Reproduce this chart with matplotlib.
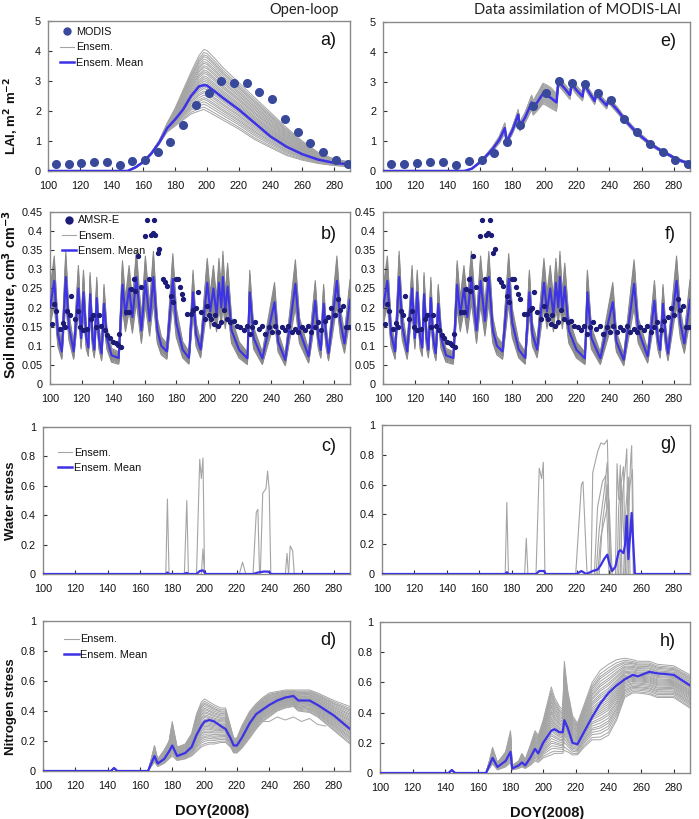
""" Open-loop vs data assimilation of MODIS-LAI: LAI, soil moisture,
water stress and nitrogen stress ensembles.
"""

import matplotlib
matplotlib.use('Agg')
import numpy as np
import matplotlib.pyplot as plt

plt.rcParams['font.family'] = ['Liberation Sans', 'DejaVu Sans']

ENS_GRAY = '#a4a4a4'
SM_GRAY = '#8a8a8a'
MEAN_BLUE = '#3c32e6'
MODIS_COLOR = '#38489a'
AMSR_COLOR = '#1c1c78'
FRAME = '#8a8a8a'

# ---- LAI observations (MODIS, 8-day) ----
modis_doy = [105, 113, 121, 129, 137, 145, 153, 161, 169, 177, 185, 193,
             201, 209, 217, 225, 233, 241, 249, 257, 265, 273, 281, 289]
modis_lai = [0.25, 0.25, 0.28, 0.31, 0.30, 0.19, 0.33, 0.38, 0.62, 0.96,
             1.53, 2.19, 2.61, 3.01, 2.94, 2.92, 2.62, 2.39, 1.74, 1.31,
             0.92, 0.64, 0.36, 0.25]

# ---- open-loop LAI ----
ol_lai_doy = [100, 150, 155, 160, 165, 170, 175, 180, 185, 190, 195, 198,
              200, 205, 210, 220, 230, 240, 250, 260, 270, 280, 290]
ol_lai_mean = [0, 0, 0.12, 0.30, 0.58, 0.95, 1.43, 1.72, 2.05, 2.50, 2.82,
               2.86, 2.85, 2.65, 2.44, 2.05, 1.60, 1.15, 0.81, 0.56, 0.38,
               0.27, 0.22]
ol_lai_low = [0, 0, 0.10, 0.28, 0.55, 0.90, 1.30, 1.50, 1.70, 1.90, 2.00,
              2.05, 2.00, 1.85, 1.70, 1.40, 1.05, 0.78, 0.52, 0.36, 0.25,
              0.18, 0.14]
ol_lai_high = [0, 0, 0.14, 0.33, 0.62, 1.02, 1.60, 2.10, 2.70, 3.30, 3.85,
               4.05, 4.02, 3.75, 3.45, 2.95, 2.45, 1.95, 1.45, 1.00, 0.62,
               0.40, 0.30]

# ---- assimilated LAI ----
da_lai_doy = [100, 150.5, 155, 159, 163, 168, 172, 175.4, 176.5, 180, 183.7,
              184.7, 188, 192, 193, 196, 199, 201, 204, 207.4, 208.5, 212,
              215.7, 216.7, 220, 223.5, 224.6, 228, 231, 232, 235, 238.4,
              239.5, 245, 250, 255, 260, 265, 270, 275, 280, 285, 290]
da_lai_mean = [0, 0, 0.08, 0.25, 0.45, 0.75, 1.05, 1.44, 0.98, 1.35, 1.89,
               1.49, 1.80, 2.30, 2.12, 2.35, 2.60, 2.55, 2.45, 2.30, 3.00,
               2.80, 2.55, 2.92, 2.70, 2.50, 2.90, 2.60, 2.35, 2.60, 2.40,
               2.20, 2.38, 2.05, 1.70, 1.40, 1.15, 0.93, 0.75, 0.60, 0.45,
               0.33, 0.25]
da_lai_spread = [0, 0, 0.01, 0.03, 0.05, 0.08, 0.12, 0.18, 0.10, 0.12, 0.18,
                 0.15, 0.18, 0.25, 0.25, 0.30, 0.35, 0.35, 0.35, 0.30, 0.12,
                 0.15, 0.15, 0.12, 0.15, 0.15, 0.10, 0.12, 0.12, 0.10, 0.12,
                 0.12, 0.10, 0.10, 0.08, 0.08, 0.07, 0.06, 0.05, 0.05, 0.04,
                 0.04, 0.03]

# ---- soil moisture (same in open-loop and DA) ----
sm_doy = [100, 102.7, 105, 107.5, 110, 112, 115, 118, 119.7, 121.2, 123,
          124.3, 125.4, 127, 128.1, 129.6, 131, 132.7, 134.2, 136, 139, 143.5,
          145.9, 147.8, 150.1, 152.2, 154.7, 157.9, 160.4, 163.1, 165.5, 168,
          170.5, 174, 177.8, 180, 184, 188, 190.6, 192.5, 195.4, 199.6, 201.5,
          203.5, 205.5, 207, 208.5, 209.5, 211, 212.5, 215, 219.8, 225, 226.5,
          229, 234.5, 242.2, 244.5, 249, 255.4, 258, 263.8, 268, 270, 271.5,
          273.3, 275, 276.4, 281.7, 284, 286.5, 290]
sm_mean = [0.20, 0.27, 0.13, 0.085, 0.28, 0.15, 0.085, 0.25, 0.12, 0.24,
           0.12, 0.095, 0.235, 0.12, 0.09, 0.225, 0.12, 0.08, 0.21, 0.12,
           0.075, 0.068, 0.26, 0.18, 0.25, 0.175, 0.28, 0.14, 0.27, 0.165,
           0.28, 0.14, 0.10, 0.085, 0.275, 0.16, 0.09, 0.068, 0.24, 0.13,
           0.09, 0.265, 0.19, 0.25, 0.18, 0.265, 0.20, 0.28, 0.19, 0.255,
           0.14, 0.089, 0.067, 0.24, 0.12, 0.067, 0.214, 0.11, 0.063, 0.262,
           0.14, 0.072, 0.218, 0.12, 0.089, 0.21, 0.12, 0.08, 0.27, 0.16,
           0.106, 0.22]
sm_member_factor = [0.76, 0.80, 0.84, 0.87, 0.90, 0.93, 0.95, 0.97, 1.00,
                    1.02, 1.05, 1.08, 1.10, 1.13, 1.16, 1.20, 1.24]

amsr_doy = [101.5, 102.7, 104, 106.3, 108, 109.4, 111, 112.6, 113.6, 116.1,
            117.8, 119.3, 121, 123.5, 126.2, 127.3, 129.4, 131, 132.5, 134.6,
            136.3, 137.7, 139.8, 141.5, 143, 144, 144.7, 148.2, 149.9, 151.4,
            153, 154.1, 155.6, 157.7, 160.2, 161.2, 162.9, 164, 165, 166,
            166.7, 168.1, 169.2, 171.7, 173, 174.4, 176.5, 178.2, 179.7, 181.1,
            182.4, 183.4, 184.5, 187, 189.1, 190.8, 192.2, 193.7, 195.4, 197.9,
            199.6, 200.6, 202.1, 203.8, 204.8, 206.3, 208, 210, 212.2, 214.3,
            216.4, 218.4, 220.5, 222.6, 224.7, 226.4, 227.9, 230, 232.1, 234.2,
            236.3, 238.4, 240.5, 242.6, 244.7, 246.8, 248.8, 251, 253, 255.1,
            257.2, 259.3, 261.4, 263.5, 265.6, 267.7, 269.8, 271.9, 274, 276.1,
            278.2, 280.3, 282.4, 283.9, 285.5, 287.6, 289.1]
amsr_sm = [0.158, 0.21, 0.19, 0.145, 0.16, 0.15, 0.19, 0.18, 0.23, 0.17,
           0.19, 0.15, 0.14, 0.145, 0.17, 0.18, 0.15, 0.18, 0.153, 0.14,
           0.128, 0.12, 0.11, 0.106, 0.103, 0.132, 0.097, 0.188, 0.188, 0.249,
           0.275, 0.244, 0.335, 0.253, 0.387, 0.43, 0.275, 0.39, 0.395, 0.43,
           0.39, 0.344, 0.352, 0.275, 0.266, 0.257, 0.231, 0.214, 0.275, 0.275,
           0.253, 0.236, 0.222, 0.184, 0.184, 0.193, 0.20, 0.24, 0.188, 0.17,
           0.205, 0.18, 0.17, 0.158, 0.18, 0.153, 0.162, 0.193, 0.17, 0.162,
           0.166, 0.153, 0.149, 0.14, 0.153, 0.132, 0.149, 0.162, 0.145, 0.153,
           0.132, 0.149, 0.136, 0.153, 0.136, 0.149, 0.14, 0.153, 0.136, 0.145,
           0.136, 0.149, 0.14, 0.153, 0.136, 0.149, 0.162, 0.14, 0.166, 0.175,
           0.20, 0.18, 0.222, 0.193, 0.205, 0.149, 0.149]

# ---- water stress ----
ol_ws_spikes = [
    ([176, 177, 178], [0, 0.51, 0]),
    ([187.5, 189, 190], [0, 0.50, 0]),
    ([195, 197, 198, 199, 200], [0, 0.78, 0.65, 0.79, 0]),
    ([198, 199, 200], [0, 0.17, 0]),
    ([221.5, 223.5, 225.5], [0, 0.08, 0]),
    ([230, 232, 233, 234], [0, 0.42, 0.44, 0]),
    ([234.5, 236, 238, 239, 240, 241], [0, 0.55, 0.58, 0.70, 0.57, 0]),
    ([250, 251, 252], [0, 0.14, 0]),
    ([252, 253, 254.5, 255.5], [0, 0.19, 0.16, 0]),
]
ol_ws_doy = [100, 176, 177, 178, 187, 189, 190, 195, 197, 199, 200, 201,
             230, 233, 237, 240, 241, 290]
ol_ws_mean = [0, 0, 0.01, 0, 0, 0.008, 0, 0, 0.02, 0.025, 0.01, 0,
              0, 0.01, 0.017, 0.015, 0, 0]

da_ws_spikes = [
    ([176, 177, 178], [0, 0.48, 0]),
    ([188, 189, 190], [0, 0.24, 0]),
    ([195, 197, 198.5, 199.5, 200.5], [0, 0.71, 0.64, 0.75, 0]),
    ([219.5, 223, 224, 226.5], [0, 0.60, 0.62, 0]),
    ([229, 230, 233, 235, 237, 239, 241], [0, 0.68, 0.82, 0.88, 0.87, 0.90, 0]),
    ([231, 233, 236, 238, 240], [0, 0.45, 0.62, 0.66, 0]),
    ([232, 234, 237, 239, 241], [0, 0.30, 0.55, 0.75, 0]),
    ([233, 235, 238, 240, 242], [0, 0.25, 0.40, 0.50, 0]),
    ([234, 236, 239, 241], [0, 0.35, 0.60, 0]),
    ([244, 245, 246, 247, 248], [0, 0.74, 0.50, 0.73, 0]),
    ([245, 246, 248, 249, 250], [0, 0.45, 0.65, 0.72, 0]),
    ([246, 247.5, 249, 250.5], [0, 0.60, 0.30, 0]),
    ([247, 248.5, 250, 251, 252], [0, 0.55, 0.70, 0.84, 0]),
    ([249, 250.5, 252, 253], [0, 0.45, 0.65, 0]),
    ([251, 252.5, 253.5, 254, 255], [0, 0.55, 0.78, 0.86, 0]),
    ([250, 251.5, 253, 254.5, 255.5], [0, 0.35, 0.60, 0.70, 0]),
]
da_ws_doy = [100, 176, 177, 178, 195, 197, 200, 201, 220, 223, 226, 230,
             233, 235, 237, 239, 240, 242, 244, 246, 247, 249, 250, 251,
             252, 253, 254, 255, 256, 290]
da_ws_mean = [0, 0, 0.012, 0, 0, 0.02, 0.02, 0, 0, 0.02, 0, 0.02,
              0.03, 0.06, 0.10, 0.13, 0.08, 0.02, 0.05, 0.15, 0.16, 0.14,
              0.20, 0.39, 0.10, 0.25, 0.41, 0.20, 0, 0]

# ---- nitrogen stress ----
ol_ns_doy = [100, 142, 144, 146, 165, 167, 169, 171, 175, 178, 180, 183, 188,
             192, 195, 198, 200, 203, 206, 210, 213, 216, 218, 220, 223, 228,
             232, 236, 240, 245, 250, 255, 258, 265, 270, 280, 290]
ol_ns_mean = [0, 0, 0.02, 0, 0, 0.05, 0.10, 0.05, 0.08, 0.13, 0.17, 0.10,
              0.12, 0.16, 0.24, 0.30, 0.33, 0.34, 0.33, 0.30, 0.28, 0.22,
              0.17, 0.17, 0.22, 0.32, 0.38, 0.41, 0.44, 0.47, 0.49, 0.50,
              0.47, 0.47, 0.44, 0.37, 0.28]
ol_ns_low = [0, 0, 0.02, 0, 0, 0.03, 0.06, 0.03, 0.05, 0.08, 0.10, 0.07,
             0.08, 0.10, 0.13, 0.16, 0.17, 0.18, 0.18, 0.19, 0.19, 0.16,
             0.12, 0.12, 0.15, 0.22, 0.28, 0.33, 0.36, 0.40, 0.42, 0.43,
             0.40, 0.39, 0.36, 0.27, 0.18]
ol_ns_high = [0, 0, 0.02, 0, 0, 0.08, 0.17, 0.08, 0.14, 0.20, 0.33, 0.16,
              0.18, 0.25, 0.38, 0.46, 0.48, 0.46, 0.44, 0.42, 0.42, 0.30,
              0.22, 0.22, 0.30, 0.40, 0.45, 0.49, 0.52, 0.53, 0.54, 0.54,
              0.54, 0.54, 0.52, 0.47, 0.43]
ol_ns_outlier_doy = [236, 240, 245, 250, 255, 260, 265, 270, 275]
ol_ns_outlier = [0.33, 0.33, 0.36, 0.34, 0.36, 0.33, 0.35, 0.31, 0.30]

da_ns_doy = [100, 142, 144, 146, 165, 167, 169, 172, 177, 180, 181, 185, 187,
             189, 192, 195, 197, 200, 205, 207, 210, 212, 213, 215, 218, 221,
             225, 230, 235, 240, 245, 250, 255, 258, 265, 270, 280, 290]
da_ns_mean = [0, 0, 0.02, 0, 0, 0.05, 0.10, 0.04, 0.08, 0.14, 0.03, 0.05,
              0.07, 0.05, 0.10, 0.16, 0.13, 0.20, 0.28, 0.29, 0.27, 0.27,
              0.35, 0.30, 0.20, 0.19, 0.27, 0.37, 0.46, 0.53, 0.58, 0.62,
              0.65, 0.64, 0.67, 0.66, 0.65, 0.58]
da_ns_low = [0, 0, 0.02, 0, 0, 0.03, 0.06, 0.02, 0.04, 0.07, 0.02, 0.03,
             0.04, 0.03, 0.05, 0.08, 0.07, 0.10, 0.12, 0.13, 0.13, 0.13,
             0.15, 0.14, 0.12, 0.12, 0.17, 0.22, 0.22, 0.25, 0.35, 0.50,
             0.53, 0.53, 0.52, 0.50, 0.50, 0.43]
da_ns_high = [0, 0, 0.02, 0, 0, 0.08, 0.17, 0.07, 0.14, 0.28, 0.05, 0.08,
              0.13, 0.09, 0.18, 0.28, 0.25, 0.35, 0.57, 0.50, 0.44, 0.42,
              0.74, 0.55, 0.38, 0.33, 0.45, 0.60, 0.68, 0.72, 0.75, 0.76,
              0.75, 0.74, 0.74, 0.72, 0.71, 0.65]

# position of each ensemble member between the low and high envelopes
member_weights = [0.0, 0.04, 0.09, 0.13, 0.17, 0.20, 0.24, 0.28, 0.31, 0.35,
                  0.38, 0.41, 0.44, 0.47, 0.50, 0.53, 0.56, 0.60, 0.63, 0.66,
                  0.70, 0.73, 0.77, 0.80, 0.84, 0.88, 0.91, 0.95, 1.0]


def px_axes(fig, left, top, right, bottom):
    W, H = 699.0, 819.0
    return fig.add_axes([left / W, 1 - bottom / H, (right - left) / W,
                         (bottom - top) / H])


def style_axis(ax, yticks, ylabels, letter):
    ax.set_xlim(100, 290)
    ax.set_xticks(range(100, 281, 20))
    ax.set_ylim(yticks[0], yticks[-1])
    ax.set_yticks(yticks)
    ax.set_yticklabels(ylabels)
    ax.tick_params(direction='in', length=3, width=0.8, labelsize=7.8,
                   colors='#333333', labelcolor='#111111')
    ax.tick_params(axis='x', pad=7)
    ax.tick_params(axis='y', pad=5)
    for spine in ax.spines.values():
        spine.set_color(FRAME)
        spine.set_linewidth(1.0)
    ax.text(0.955, 0.87, letter, transform=ax.transAxes, ha='right',
            va='center', fontsize=13, color='#111111')


def draw_envelope(ax, doy, low, high, color=ENS_GRAY):
    low = np.array(low)
    high = np.array(high)
    for w in member_weights:
        ax.plot(doy, low + w * (high - low), color=color, lw=0.7, zorder=1)


def add_legend(ax, handles, labels, x, y, spacing=0.5):
    leg = ax.legend(handles, labels, loc='upper left', bbox_to_anchor=(x, y),
                    frameon=False, fontsize=7.8, handlelength=1.3,
                    handletextpad=0.15, labelspacing=spacing,
                    borderaxespad=0, borderpad=0)
    for text in leg.get_texts():
        text.set_color('#111111')
    return leg


fig = plt.figure(figsize=(6.99, 8.19), dpi=100)

ax_a = px_axes(fig, 48, 21, 350, 171)
ax_e = px_axes(fig, 383, 22, 690, 171)
ax_b = px_axes(fig, 50, 212, 350, 384)
ax_f = px_axes(fig, 383, 212, 690, 384)
ax_c = px_axes(fig, 43, 427, 350, 574)
ax_g = px_axes(fig, 382, 425, 690, 574)
ax_d = px_axes(fig, 43, 621, 350, 771)
ax_h = px_axes(fig, 380, 622, 690, 773)

lai_ticks = [0, 1, 2, 3, 4, 5]
sm_ticks = [0, 0.05, 0.1, 0.15, 0.2, 0.25, 0.3, 0.35, 0.4, 0.45]
st_ticks = [0, 0.2, 0.4, 0.6, 0.8, 1.0]
lai_labels = [str(t) for t in lai_ticks]
sm_labels = ['0'] + ['{:g}'.format(t) for t in sm_ticks[1:]]
st_labels = ['0', '0.2', '0.4', '0.6', '0.8', '1']

# LAI open-loop
draw_envelope(ax_a, ol_lai_doy, ol_lai_low, ol_lai_high)
ax_a.plot(ol_lai_doy, ol_lai_mean, color=MEAN_BLUE, lw=1.8, zorder=3)
ax_a.plot(modis_doy, modis_lai, 'o', color=MODIS_COLOR, ms=5.5, zorder=4)
style_axis(ax_a, lai_ticks, lai_labels, 'a)')

# LAI assimilated
da_mean = np.array(da_lai_mean)
da_spread = np.array(da_lai_spread)
for w in member_weights:
    ax_e.plot(da_lai_doy, da_mean + (2 * w - 1) * da_spread, color=ENS_GRAY,
              lw=0.7, zorder=1)
ax_e.plot(da_lai_doy, da_lai_mean, color=MEAN_BLUE, lw=1.8, zorder=3)
ax_e.plot(modis_doy, modis_lai, 'o', color=MODIS_COLOR, ms=5.5, zorder=4)
style_axis(ax_e, lai_ticks, lai_labels, 'e)')

# soil moisture, both columns
for ax, letter in ((ax_b, 'b)'), (ax_f, 'f)')):
    for f in sm_member_factor:
        ax.plot(sm_doy, np.array(sm_mean) * f, color=SM_GRAY, lw=0.8, zorder=1)
    ax.plot(sm_doy, sm_mean, color=MEAN_BLUE, lw=1.5, zorder=3)
    ax.plot(amsr_doy, amsr_sm, 'o', color=AMSR_COLOR, ms=2.8, zorder=4)
    style_axis(ax, sm_ticks, sm_labels, letter)

# water stress
for ax, spikes, doy, mean, letter in ((ax_c, ol_ws_spikes, ol_ws_doy,
                                       ol_ws_mean, 'c)'),
                                      (ax_g, da_ws_spikes, da_ws_doy,
                                       da_ws_mean, 'g)')):
    for sx, sy in spikes:
        ax.plot(sx, sy, color=ENS_GRAY, lw=0.8, zorder=1)
    ax.plot(doy, mean, color=MEAN_BLUE, lw=1.6, zorder=3)
    style_axis(ax, st_ticks, st_labels, letter)

# nitrogen stress
draw_envelope(ax_d, ol_ns_doy, ol_ns_low, ol_ns_high)
ax_d.plot(ol_ns_outlier_doy, ol_ns_outlier, color=ENS_GRAY, lw=0.7, zorder=1)
ax_d.plot(ol_ns_doy, ol_ns_mean, color=MEAN_BLUE, lw=1.6, zorder=3)
style_axis(ax_d, st_ticks, st_labels, 'd)')

draw_envelope(ax_h, da_ns_doy, da_ns_low, da_ns_high)
ax_h.plot(da_ns_doy, da_ns_mean, color=MEAN_BLUE, lw=1.6, zorder=3)
style_axis(ax_h, st_ticks, st_labels, 'h)')

# legends
ens_line = plt.Line2D([], [], color=ENS_GRAY, lw=0.8)
mean_line = plt.Line2D([], [], color=MEAN_BLUE, lw=1.8)
modis_pt = plt.Line2D([], [], ls='', marker='o', color=MODIS_COLOR, ms=5)
amsr_pt = plt.Line2D([], [], ls='', marker='o', color=AMSR_COLOR, ms=5)
add_legend(ax_a, [modis_pt, ens_line, mean_line],
           ['MODIS', 'Ensem.', 'Ensem. Mean'], 0.04, 0.96)
add_legend(ax_b, [amsr_pt, ens_line, mean_line],
           ['AMSR-E', 'Ensem.', 'Ensem. Mean'], 0.04, 0.98)
add_legend(ax_c, [ens_line, mean_line], ['Ensem.', 'Ensem. Mean'], 0.05, 0.86)
add_legend(ax_d, [ens_line, mean_line], ['Ensem.', 'Ensem. Mean'], 0.07, 0.91)

# axis labels
ylab = dict(fontsize=9.5, fontweight='bold', color='#111111')
ax_a.set_ylabel('LAI, m$^\\mathbf{2}$ m$^\\mathbf{-2}$', **ylab)
ax_b.set_ylabel('Soil moisture, cm$^\\mathbf{3}$ cm$^\\mathbf{-3}$',
                fontsize=10.4, fontweight='bold', color='#111111')
ax_c.set_ylabel('Water stress', **ylab)
ax_d.set_ylabel('Nitrogen stress', **ylab)
# label centres, in pixels from the figure left / axes bottom
ax_a.yaxis.set_label_coords((12 - 48) / 302, 0.37)
ax_b.yaxis.set_label_coords((11 - 50) / 300, 0.52)
ax_c.yaxis.set_label_coords((11 - 43) / 307, 0.5)
ax_d.yaxis.set_label_coords((11 - 43) / 307, 0.43)
for ax in (ax_a, ax_b, ax_c, ax_d):
    ax.yaxis.label.set_verticalalignment('center')

for ax, xfrac in ((ax_d, 0.55), (ax_h, 0.54)):
    ax.set_xlabel('DOY(2008)', fontsize=10.5, fontweight='bold',
                  color='#111111')
    ax.xaxis.set_label_coords(xfrac, -40 / 150)
    ax.xaxis.label.set_verticalalignment('center')

fig.text(304 / 699, 1 - 10 / 819, 'Open-loop', ha='center', va='center',
         fontsize=10.5, family=['Lato', 'DejaVu Sans'], color='#222222')
fig.text(578 / 699, 1 - 10 / 819, 'Data assimilation of MODIS-LAI',
         ha='center', va='center', fontsize=10.5, family=['Lato', 'DejaVu Sans'],
         color='#222222')

fig.savefig('out.png', dpi=100)
